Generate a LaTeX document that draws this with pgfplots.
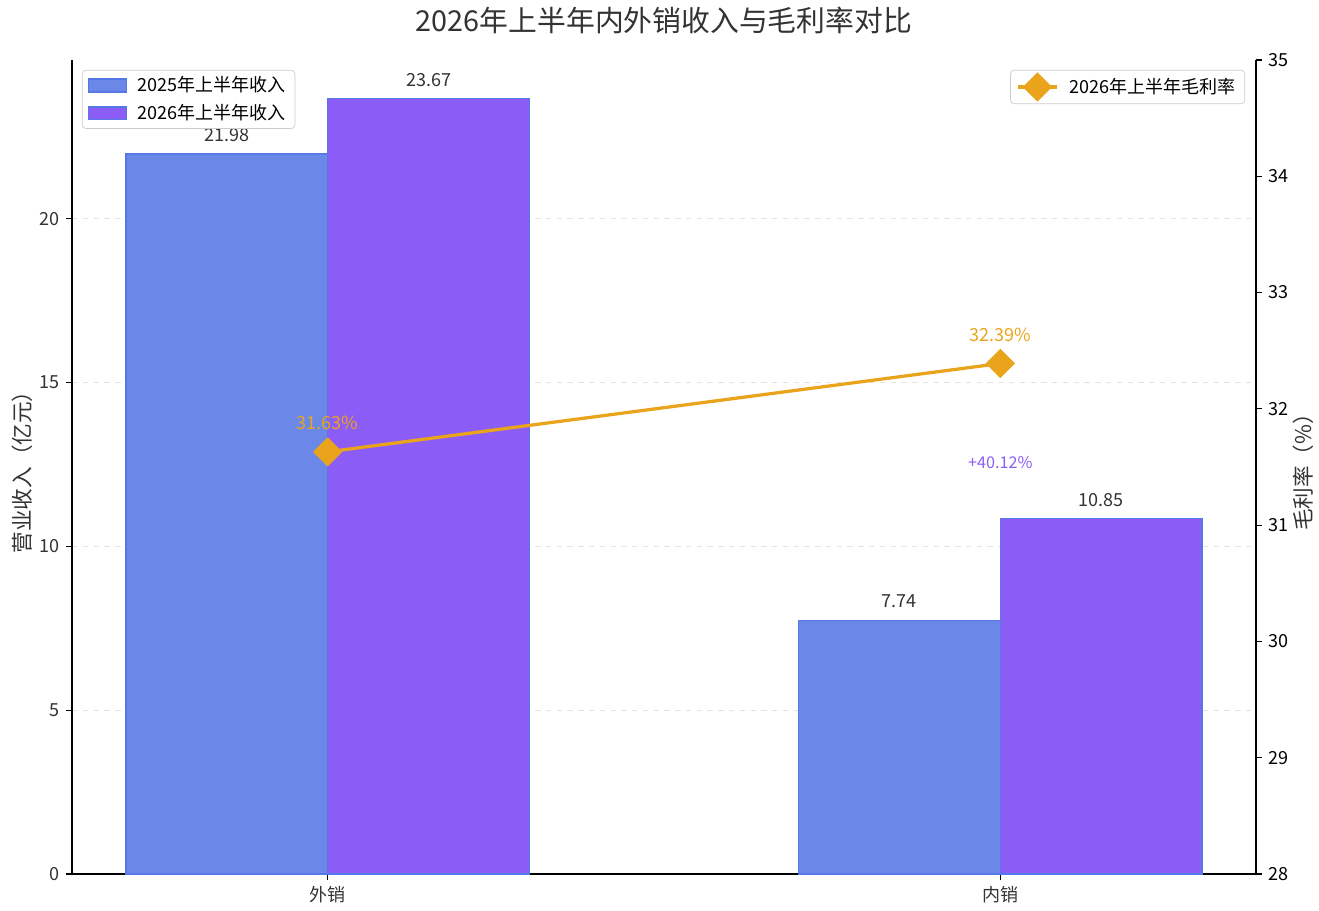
\documentclass[border=0pt]{standalone}
\usepackage{pgfplots}
\pgfplotsset{compat=1.18}
\usepackage{fontspec}
\setmainfont{Noto Sans CJK SC}
\definecolor{cBlue}{HTML}{6B88E8}
\definecolor{cPurple}{HTML}{8B5CF6}
\definecolor{cEdge}{HTML}{5478E6}
\definecolor{cOrange}{HTML}{E9A41C}
\definecolor{cText}{HTML}{333333}
\definecolor{cGrid}{HTML}{E3E3E3}
\pgfplotsset{
  barleg/.style={legend image code/.code={\draw[##1, sharp corners] (0bp,-3.6bp) rectangle (21bp,3.6bp);}},
  lineleg/.style={legend image code/.code={\draw[##1, sharp corners, mark repeat=2, mark phase=2] plot coordinates {(0bp,0bp) (11bp,0bp) (22bp,0bp)};}},
}
\begin{document}
\begin{tikzpicture}
\path[use as bounding box] (-40bp,-20.5bp) rectangle (692.1bp,485.1bp);
\begin{axis}[
  at={(0,0)}, anchor=south west,
  scale only axis, width=657.1bp, height=451.8bp,
  xmin=-0.38, xmax=1.38, ymin=0, ymax=24.85,
  axis x line*=bottom, axis y line*=left,
  axis line style={-, black, line width=0.7bp},
  xtick={0,1}, xticklabels={外销,内销},
  ytick={0,5,10,15,20},
  ymajorgrids, grid style={dashed, cGrid, line width=0.6bp},
  tick align=outside, major tick length=3.3bp,
  tick style={black, line width=0.6bp},
  /pgf/number format/assume math mode=true,
  ticklabel style={font=\fontsize{10bp}{12bp}\selectfont, color=cText},
  ylabel={营业收入（亿元）},
  ylabel style={at={(axis description cs:-0.0422,0.5)}, anchor=center, font=\fontsize{12bp}{14bp}\selectfont, color=cText},
  clip=false,
  legend style={at={(axis description cs:0,1)}, anchor=north west, xshift=5.5bp, yshift=-5.5bp,
    draw=black!20, rounded corners=2bp, fill=white,
    font=\fontsize{10bp}{12bp}\selectfont, row sep=1.5bp, inner xsep=3bp, inner ysep=1.5bp,
    /tikz/every odd column/.append style={column sep=4bp}},
  legend cell align=left,
]
\addplot[ybar, bar width=0.3, bar shift=0pt, fill=cBlue, draw=cEdge, line width=0.8bp, barleg]
  coordinates {(-0.15,21.98) (0.85,7.74)};
\addlegendentry{2025年上半年收入}
\addplot[ybar, bar width=0.3, bar shift=0pt, fill=cPurple, draw=cEdge, line width=0.8bp, barleg]
  coordinates {(0.15,23.67) (1.15,10.85)};
\addlegendentry{2026年上半年收入}
\begin{scope}[font=\fontsize{10bp}{12bp}\selectfont, text=cText]
\node[yshift=10.5bp] at (axis cs:-0.15,21.98) {21.98};
\node[yshift=10.5bp] at (axis cs:0.15,23.67) {23.67};
\node[yshift=10.5bp] at (axis cs:0.85,7.74) {7.74};
\node[yshift=10.5bp] at (axis cs:1.15,10.85) {10.85};
\end{scope}
\node[font=\fontsize{9bp}{11bp}\selectfont, text=cPurple] at (axis cs:1,12.55) {+40.12\%};
\end{axis}
\begin{axis}[
  at={(0,0)}, anchor=south west,
  scale only axis, width=657.1bp, height=451.8bp,
  xmin=-0.38, xmax=1.38, ymin=28, ymax=35,
  axis x line=none, axis y line*=right,
  axis line style={-, black, line width=0.7bp},
  xtick=\empty,
  ytick={28,29,30,31,32,33,34,35},
  tick align=outside, major tick length=3.3bp,
  tick style={black, line width=0.6bp},
  /pgf/number format/assume math mode=true,
  ticklabel style={font=\fontsize{10bp}{12bp}\selectfont, color=black},
  ylabel={毛利率（\%）},
  ylabel style={at={(axis description cs:1.0397,0.5)}, anchor=center, font=\fontsize{12bp}{14bp}\selectfont, color=cText},
  clip=false,
  legend style={at={(axis description cs:1,1)}, anchor=north east, xshift=-6bp, yshift=-5.5bp,
    draw=black!20, rounded corners=2bp, fill=white,
    font=\fontsize{10bp}{12bp}\selectfont, inner xsep=3bp, inner ysep=1.5bp,
    /tikz/every odd column/.append style={column sep=4bp}},
  legend cell align=left,
]
\addplot[cOrange, line width=1.8bp, mark=square*, mark size=5.5bp,
  mark options={rotate=45, fill=cOrange, draw=cOrange, line width=0.5bp}, lineleg]
  coordinates {(0,31.63) (1,32.39)};
\addlegendentry{2026年上半年毛利率}
\begin{scope}[font=\fontsize{10bp}{12bp}\selectfont, text=cOrange]
\node[yshift=16bp] at (axis cs:0,31.63) {31.63\%};
\node[yshift=16bp] at (axis cs:1,32.39) {32.39\%};
\end{scope}
\end{axis}
\node[font=\fontsize{16bp}{19bp}\selectfont, text=cText] at (328.5bp,474bp) {2026年上半年内外销收入与毛利率对比};
\end{tikzpicture}
\end{document}
